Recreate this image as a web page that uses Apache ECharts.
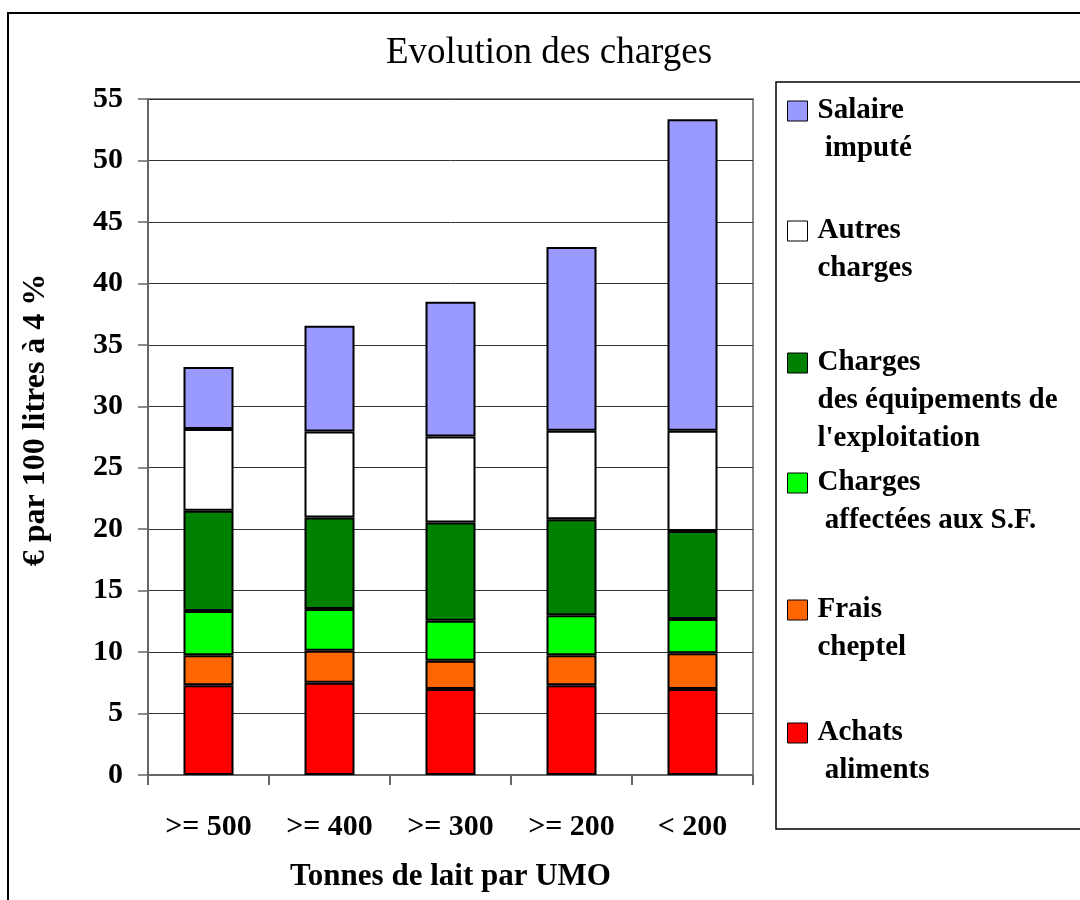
<!DOCTYPE html>
<html>
<head>
<meta charset="utf-8">
<script src="https://cdn.jsdelivr.net/npm/echarts@6/dist/echarts.min.js"></script>
<style>
  html, body { margin: 0; padding: 0; background: #fff; }
  #chart { width: 1080px; height: 900px; }
</style>
</head>
<body>
<div id="chart"></div>
<script>
const categories = ['>= 500', '>= 400', '>= 300', '>= 200', '< 200']

// bottom of the stack first
const achatsAliments = [7.3, 7.5, 7.0, 7.3, 7.0]
const fraisCheptel = [2.45, 2.6, 2.3, 2.45, 2.9]
const chargesSF = [3.6, 3.4, 3.25, 3.25, 2.8]
const chargesEquipements = [8.15, 7.45, 8.0, 7.8, 7.15]
const autresCharges = [6.65, 7.0, 7.0, 7.2, 8.15]
const salaireImpute = [5.05, 8.6, 10.95, 14.95, 25.35]

const yTicks = { min: 0, max: 55, interval: 5 }

const FONT = '"Liberation Serif", "Times New Roman", serif'
const LH = 38

const SERIES = [
  { name: 'Achats aliments', label: 'Achats\n aliments', data: achatsAliments, color: '#ff0000', iconTop: 723 },
  { name: 'Frais cheptel', label: 'Frais\ncheptel', data: fraisCheptel, color: '#ff6600', iconTop: 600 },
  { name: 'Charges affectées aux S.F.', label: 'Charges\n affectées aux S.F.', data: chargesSF, color: '#00ff00', iconTop: 473 },
  { name: "Charges des équipements de l'exploitation", label: "Charges\ndes équipements de\nl'exploitation", data: chargesEquipements, color: '#008000', iconTop: 353 },
  { name: 'Autres charges', label: 'Autres\ncharges', data: autresCharges, color: '#ffffff', iconTop: 221 },
  { name: 'Salaire imputé', label: 'Salaire\n imputé', data: salaireImpute, color: '#9999ff', iconTop: 101 },
]

const chart = echarts.init(document.getElementById('chart'), null, { renderer: 'canvas' })

// one legend per entry so each can sit where the original puts it;
// blank lines on top keep the icon level with the first line of text
const legends = SERIES.map(s => {
  const n = s.label.split('\n').length
  return {
    orient: 'vertical',
    left: 787,
    top: s.iconTop + 10 - (2 * n - 1) * LH / 2,
    padding: 0,
    icon: 'rect',
    itemWidth: 20,
    itemHeight: 20,
    selectedMode: false,
    data: [s.name],
    formatter: () => '\n'.repeat(n - 1) + s.label,
    itemStyle: { borderColor: '#000', borderWidth: 1 },
    textStyle: {
      fontFamily: FONT, fontWeight: 'bold', fontSize: 29, color: '#000',
      lineHeight: LH, padding: [0, 0, 0, 5],
    },
  }
})

chart.setOption({
  animation: false,
  backgroundColor: '#fff',
  title: {
    text: 'Evolution des charges',
    left: 386, top: 35, padding: 0,
    textStyle: { fontFamily: FONT, fontWeight: 'normal', fontSize: 37, color: '#000' },
  },
  graphic: [
    { type: 'rect', shape: { x: 8, y: 13, width: 1200, height: 1000 }, style: { fill: 'none', stroke: '#000', lineWidth: 2 }, z: 100 },
    { type: 'rect', shape: { x: 776, y: 82, width: 400, height: 747 }, style: { fill: 'none', stroke: '#000', lineWidth: 1.5 }, z: 100 },
  ],
  legend: legends,
  grid: {
    left: 148, right: 327, top: 99, bottom: 125,
    show: true, borderColor: '#8a8a8a', borderWidth: 2,
  },
  xAxis: {
    type: 'category',
    data: categories,
    name: 'Tonnes de lait par UMO',
    nameLocation: 'middle',
    nameGap: 86,
    nameTextStyle: { fontFamily: FONT, fontWeight: 'bold', fontSize: 31, color: '#000' },
    axisLine: { lineStyle: { color: '#666', width: 2 } },
    axisTick: { show: true, length: 10, lineStyle: { color: '#666', width: 2 } },
    axisLabel: { fontFamily: FONT, fontWeight: 'bold', fontSize: 30, color: '#000', margin: 37 },
  },
  yAxis: {
    type: 'value',
    min: yTicks.min, max: yTicks.max, interval: yTicks.interval,
    name: '€ par 100 litres à 4 %',
    nameLocation: 'middle',
    nameGap: 96,
    nameTextStyle: { fontFamily: FONT, fontWeight: 'bold', fontSize: 32, color: '#000', padding: [0, 0, 0, 34] },
    axisLine: { show: true, lineStyle: { color: '#666', width: 2 } },
    axisTick: { show: true, length: 10, lineStyle: { color: '#666', width: 1.5 } },
    axisLabel: { fontFamily: FONT, fontWeight: 'bold', fontSize: 30, color: '#000', margin: 25 },
    splitLine: { lineStyle: { color: '#333', width: 1 } },
  },
  series: SERIES.map(s => ({
    name: s.name,
    type: 'bar',
    stack: 'total',
    barWidth: 50,
    data: s.data,
    itemStyle: { color: s.color, borderColor: '#000', borderWidth: 2 },
  })),
})
</script>
</body>
</html>
